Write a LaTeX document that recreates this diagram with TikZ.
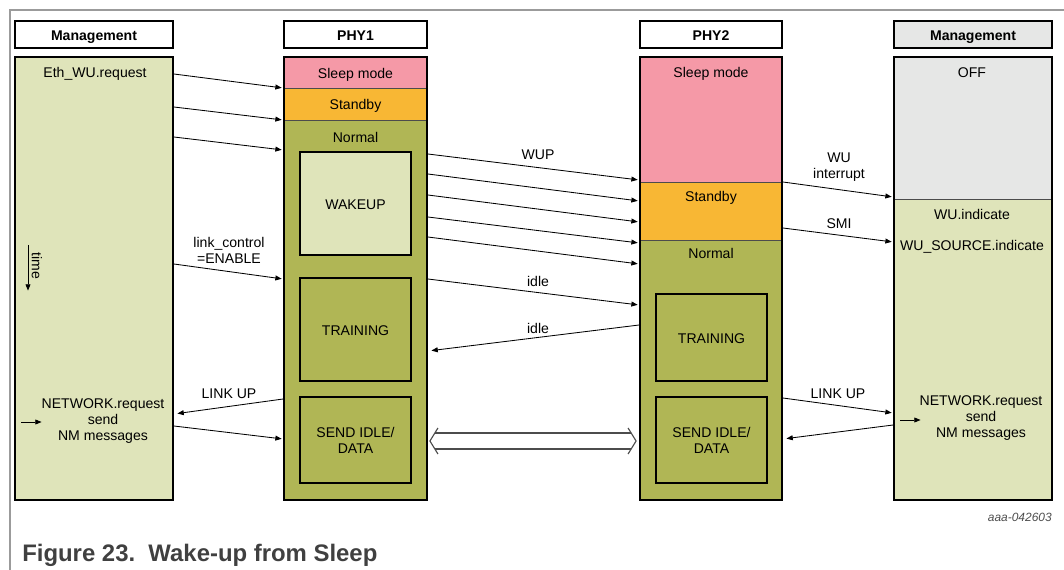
\documentclass[tikz,border=0pt]{standalone}
\usepackage{fontspec}
\setmainfont{Liberation Sans}
\usetikzlibrary{arrows.meta, positioning}
\definecolor{sleeppink}{HTML}{F599A7}
\definecolor{stbyorange}{HTML}{F8B734}
\definecolor{normalolive}{HTML}{B0B655}
\definecolor{mgmtgreen}{HTML}{DFE4BA}
\definecolor{offgray}{HTML}{E6E7E6}
\definecolor{framegray}{HTML}{9B9B9B}
\definecolor{capgray}{HTML}{404040}
\tikzset{
  one/.style={text height=1em, text depth=0.19em},
  hdr/.style={draw, line width=1.3pt, fill=white, minimum height=0.675cm, inner sep=0pt, one, font=\fontsize{10}{12}\selectfont\bfseries},
  region/.style={draw=black!70, line width=0.5pt, inner sep=0pt, one},
  col/.style={draw, line width=1.3pt, inner sep=0pt, minimum height=11.075cm},
  sub/.style={draw, line width=1.3pt, inner sep=0pt, minimum width=2.775cm, align=center},
  txt/.style={inner sep=1pt, one},
  txtml/.style={inner sep=1pt, align=center},
  sig/.style={-{Triangle[length=4.5pt,width=3.5pt]}, line width=0.6pt, shorten >=1pt},
  dblline/.style={draw=black!70, line width=0.8pt, line join=miter},
}

\begin{document}
\begin{tikzpicture}[x=0.025cm, y=-0.025cm, font=\fontsize{10}{11.5}\selectfont]
\useasboundingbox (0,0) rectangle (1064,570);
\draw[framegray, line width=1.5pt] (10,570) -- (10,10) -- (1064,10);

\node[hdr, minimum width=3.95cm] (hdrL) at (94,34.5) {Management};
\node[hdr, minimum width=3.575cm] (hdrA) at (355.5,34.5) {PHY1};
\node[hdr, minimum width=3.55cm] (hdrB) at (711,34.5) {PHY2};
\node[hdr, fill=offgray, minimum width=3.95cm] (hdrR) at (973,34.5) {Management};

\node[col, fill=mgmtgreen, minimum width=3.95cm] (mgL) at (94,278.5) {};
\node[txt] (ethwu) at (95,72) {Eth\_WU.request};
\node[txtml, rotate=-90] (timetxt) at (37,266) {time};
\coordinate (timetop) at (28,245);
\coordinate (timebot) at (28,292);
\draw[sig] (timetop) -- (timebot);
\node[txtml] (netL) at (103,421) {NETWORK.request\\send\\NM messages};
\coordinate (inL) at (21,422);
\draw[sig] (inL) -- ++(22,0);

\node[region, fill=sleeppink, minimum width=3.575cm, minimum height=0.775cm] (sleepA) at (355.5,72.5) {Sleep mode};
\node[region, fill=stbyorange, minimum width=3.575cm, minimum height=0.8cm] (stbyA) at (355.5,104) {Standby};
\node[region, fill=normalolive, minimum width=3.575cm, minimum height=9.5cm] (normA) at (355.5,310) {};
\node[col, minimum width=3.575cm] (phyA) at (355.5,278.5) {};
\node[txt] (normAtxt) at (355.5,137) {Normal};
\node[sub, one, fill=mgmtgreen, minimum height=2.575cm] (wakeA) at (355.5,203.5) {WAKEUP};
\node[sub, one, minimum height=2.575cm] (trainA) at (355.5,329.5) {TRAINING};
\node[sub, minimum height=2.15cm] (sendA) at (355.5,440) {SEND IDLE/\\DATA};

\node[region, fill=sleeppink, minimum width=3.55cm, minimum height=3.125cm] (sleepB) at (711,119.5) {};
\node[region, fill=stbyorange, minimum width=3.55cm, minimum height=1.45cm] (stbyB) at (711,211) {};
\node[region, fill=normalolive, minimum width=3.55cm, minimum height=6.5cm] (normB) at (711,370) {};
\node[col, minimum width=3.55cm] (phyB) at (711,278.5) {};
\node[txt] (sleepBtxt) at (711,72) {Sleep mode};
\node[txt] (stbyBtxt) at (711,196) {Standby};
\node[txt] (normBtxt) at (711,253) {Normal};
\node[sub, one, minimum height=2.175cm] (trainB) at (711.5,337.5) {TRAINING};
\node[sub, minimum height=2.15cm] (sendB) at (711.5,440) {SEND IDLE/\\DATA};

\node[region, fill=offgray, minimum width=3.95cm, minimum height=3.55cm] (offR) at (973,128) {};
\node[region, fill=mgmtgreen, minimum width=3.95cm, minimum height=7.525cm] (indR) at (973,349.5) {};
\node[col, minimum width=3.95cm] (mgR) at (973,278.5) {};
\node[txt] (offtxt) at (972,72) {OFF};
\node[txt] (wuind) at (972,214) {WU.indicate};
\node[txt] (wusrc) at (972,245) {WU\_SOURCE.indicate};
\node[txtml] (netR) at (981,418) {NETWORK.request\\send\\NM messages};
\coordinate (inR) at (900,420);
\draw[sig] (inR) -- ++(22,0);

\draw[sig] (mgL.east |- 0,74) -- (phyA.west |- 0,88);
\draw[sig] (mgL.east |- 0,107) -- (phyA.west |- 0,120);
\draw[sig] (mgL.east |- 0,137) -- (phyA.west |- 0,150);
\draw[sig] (mgL.east |- 0,264) -- (phyA.west |- 0,279);
\draw[sig, shorten >=2.5pt] (phyA.west |- 0,399) -- (mgL.east |- 0,414);
\draw[sig] (mgL.east |- 0,426) -- (phyA.west |- 0,439);
\node[txtml] (linkctl) at (229,250) {link\_control\\=ENABLE};
\node[txt] (linkupL) at (229,393) {LINK UP};

\draw[sig] (phyA.east |- 0,154) -- (phyB.west |- 0,180);
\draw[sig] (phyA.east |- 0,174) -- (phyB.west |- 0,201);
\draw[sig] (phyA.east |- 0,195) -- (phyB.west |- 0,222);
\draw[sig] (phyA.east |- 0,217) -- (phyB.west |- 0,243);
\draw[sig] (phyA.east |- 0,237) -- (phyB.west |- 0,264);
\draw[sig] (phyA.east |- 0,279) -- (phyB.west |- 0,305);
\draw[sig, shorten >=2.5pt] (phyB.west |- 0,325) -- (phyA.east |- 0,351);
\node[txt] (wup) at (538,154) {WUP};
\node[txt] (idleA) at (538,281) {idle};
\node[txt] (idleB) at (538,328) {idle};

\path (phyA.east |- 0,441) ++(2,0) coordinate (dl);
\path (phyB.west |- 0,441) ++(-3,0) coordinate (dr);
\draw[dblline] (dl) ++(8,-13) -- (dl) -- ++(8,13);
\draw[dblline] (dr) ++(-8,-13) -- (dr) -- ++(-8,13);
\draw[dblline, shorten <=0.125cm, shorten >=0.125cm] (dl |- 0,433) -- (dr |- 0,433);
\draw[dblline, shorten <=0.125cm, shorten >=0.125cm] (dl |- 0,449) -- (dr |- 0,449);

\draw[sig] (phyB.east |- 0,182) -- (mgR.west |- 0,197);
\draw[sig] (phyB.east |- 0,228) -- (mgR.west |- 0,242);
\draw[sig] (phyB.east |- 0,398) -- (mgR.west |- 0,413);
\draw[sig, shorten >=2.5pt] (mgR.west |- 0,425) -- (phyB.east |- 0,439);
\node[txtml] (wuint) at (839,167) {WU\\interrupt};
\node[txt] (smi) at (839,223) {SMI};
\node[txt] (linkupR) at (838,393) {LINK UP};

\node[anchor=east, inner sep=0pt, font=\fontsize{8.5}{10}\selectfont\itshape, text=black!70] (docid) at (1052,517) {aaa-042603};
\node[anchor=west, inner sep=0pt, font=\fontsize{17}{20}\selectfont\bfseries, text=capgray] (caption) at (22,555) {Figure 23.\ \ Wake-up from Sleep};
\end{tikzpicture}
\end{document}
